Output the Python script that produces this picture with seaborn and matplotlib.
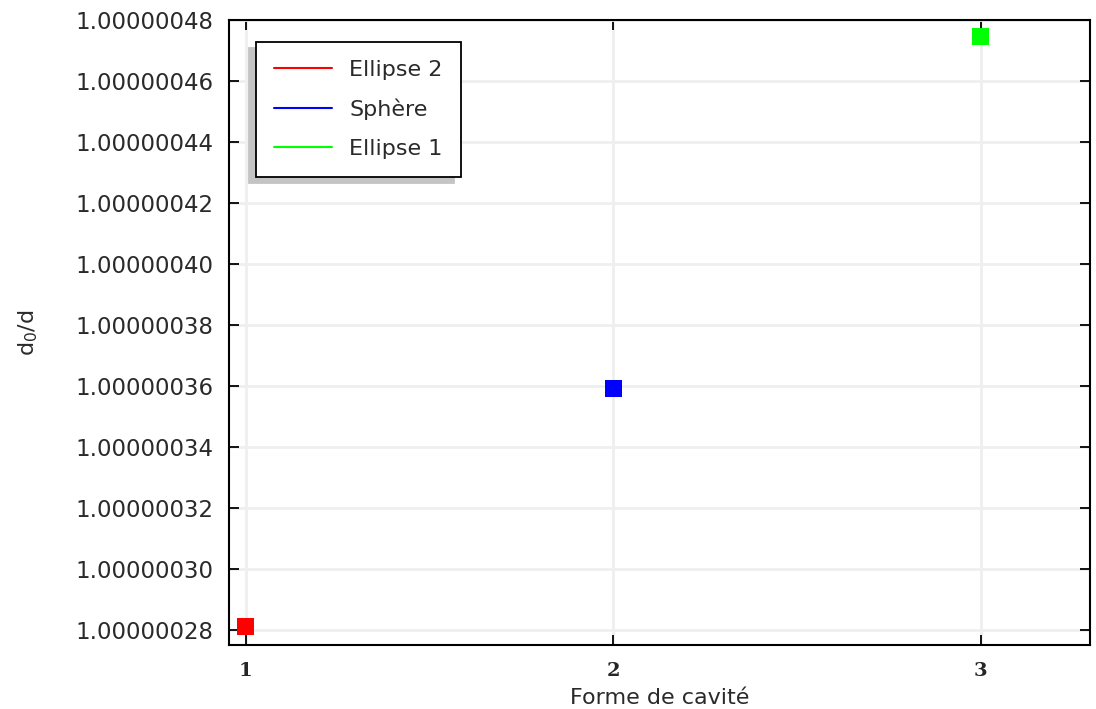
import matplotlib
matplotlib.use("Agg")
import matplotlib.pyplot as plt
import seaborn as sns
import pandas as pd
from matplotlib.lines import Line2D
from matplotlib.ticker import FormatStrFormatter

shapes = ["Ellipse 2", "Sphère", "Ellipse 1"]
positions = [1, 2, 3]
ratios = [1.000000281, 1.000000359, 1.0000004744]
colors = ["#ff0000", "#0000ff", "#00ff00"]
y_ticks = [1.00000028, 1.00000030, 1.00000032, 1.00000034, 1.00000036, 1.00000038,
           1.00000040, 1.00000042, 1.00000044, 1.00000046, 1.00000048]

df = pd.DataFrame({"shape": shapes, "x": positions, "y": ratios})

sns.set_theme(style="whitegrid")
plt.rcParams["font.family"] = ["DejaVu Sans"]

fig, ax = plt.subplots(figsize=(10.96, 7.09), dpi=100)
fig.subplots_adjust(left=0.209, right=0.9945, top=0.972, bottom=0.0903)

sns.scatterplot(data=df, x="x", y="y", hue="shape", palette=dict(zip(shapes, colors)),
                marker="s", s=150, edgecolor="none", legend=False, ax=ax, zorder=3)

ax.set_xlim(0.955, 3.297)
ax.set_ylim(1.000000275, 1.00000048)
ax.set_xticks(positions)
ax.set_yticks(y_ticks)
ax.yaxis.set_major_formatter(FormatStrFormatter("%.8f"))

ax.set_facecolor("white")
ax.grid(True, color="#efefef", linewidth=2)
for sp in ax.spines.values():
    sp.set_visible(True)
    sp.set_color("black")
    sp.set_linewidth(1.5)

ax.tick_params(axis="both", direction="in", length=7, width=1.3, color="black",
               top=True, right=True, left=True, bottom=True)
ax.tick_params(axis="y", labelsize=16.5, labelcolor="#2a2a2a", pad=11)
ax.tick_params(axis="x", labelsize=14, pad=12)
for lbl in ax.get_xticklabels():
    lbl.set_fontfamily("DejaVu Serif")
    lbl.set_fontweight("bold")

ax.set_xlabel("Forme de cavité", fontsize=16, color="#2a2a2a", labelpad=6)
ax.set_ylabel("d$_0$/d", fontsize=16, color="#2a2a2a", labelpad=26)

handles = [Line2D([0], [0], color=c, lw=1.5) for c in colors]
leg = ax.legend(handles, shapes, loc="upper left",
                bbox_to_anchor=(27 / 861, 1 - 22 / 625), borderaxespad=0,
                fontsize=16, fancybox=False, framealpha=1, edgecolor="black",
                handlelength=2.6, handletextpad=0.8, borderpad=0.8, labelspacing=0.85,
                shadow={"ox": -5, "oy": -4.5, "color": "#c4c4c4", "alpha": 1})
leg.get_frame().set_linewidth(1.3)
for t in leg.get_texts():
    t.set_color("#2a2a2a")

fig.savefig("out.png", dpi=100)
